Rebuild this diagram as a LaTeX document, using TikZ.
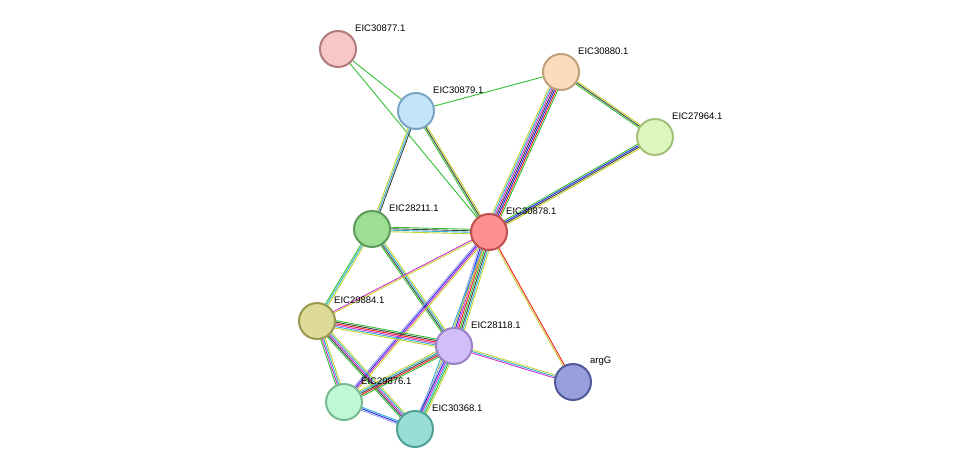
\documentclass[tikz,border=0pt]{standalone}
\usepackage{fontspec}
\setmainfont{Liberation Sans}
\usetikzlibrary{calc}
\pgfdeclarelayer{bg}
\pgfsetlayers{bg,main}
\definecolor{cG}{HTML}{33C033}
\definecolor{cR}{HTML}{F02020}
\definecolor{cB}{HTML}{2020F0}
\definecolor{cK}{HTML}{404040}
\definecolor{cM}{HTML}{D030D0}
\definecolor{cC}{HTML}{30B0D8}
\definecolor{cY}{HTML}{C4D430}
\definecolor{cL}{HTML}{A8A8F0}
\tikzset{
 prot/.style={circle,minimum size=36pt,inner sep=0pt,line width=2pt},
 lab/.style={font=\fontsize{9.5}{11}\selectfont,anchor=west,inner sep=0pt}
}
% #1,#2 nodes, #3 count, #4 colour list
\newcommand{\medge}[4]{%
 \foreach \c [count=\i] in {#4} {%
  \pgfmathsetmacro{\off}{(\i-(#3+1)/2)*1.5}%
  \draw[\c,line width=0.9pt] ($(#1.center)!\off pt!90:(#2.center)$) -- ($(#2.center)!\off pt!-90:(#1.center)$);
 }}
\newcommand{\prt}[5]{%
 \definecolor{f#1}{HTML}{#3}\definecolor{d#1}{HTML}{#4}%
 \node[prot,fill=f#1,draw=d#1] (#1) at #2 {};
 \node[lab] (l#1) at ($(#1)+(17,-21)$) {#5};}
\begin{document}
\begin{tikzpicture}[x=1pt,y=-1pt]
\path[use as bounding box] (0,0) rectangle (976,474);
\prt{a}{(338,49)}{F7C6C6}{B07C7C}{EIC30877.1}
\prt{b}{(416,111)}{C2E5FA}{7AA5C4}{EIC30879.1}
\prt{c}{(561,72)}{FDDCBE}{C0A07A}{EIC30880.1}
\prt{d}{(655,137)}{DDF6BE}{A2C07A}{EIC27964.1}
\prt{e}{(372,229)}{9BDE94}{5E9A58}{EIC28211.1}
\prt{f}{(489,232)}{FC9090}{C05050}{EIC30878.1}
\prt{g}{(317,321)}{DDDB97}{9A9850}{EIC29884.1}
\prt{h}{(454,346)}{D2BEF8}{9A80C4}{EIC28118.1}
\prt{i}{(573,382)}{979FDC}{505A9A}{argG}
\prt{j}{(344,402)}{C0F8D6}{78BA90}{EIC29876.1}
\prt{k}{(415,429)}{98DED4}{50A096}{EIC30368.1}
\begin{pgfonlayer}{bg}
\medge{a}{b}{1}{cG}
\medge{a}{f}{1}{cG}
\medge{b}{c}{1}{cG}
\medge{b}{f}{3}{cG,cK,cY}
\medge{b}{e}{3}{cY,cC,cK}
\medge{c}{f}{7}{cY,cC,cM,cK,cB,cR,cG}
\medge{c}{d}{3}{cG,cK,cY}
\medge{d}{f}{4}{cG,cB,cK,cY}
\medge{e}{f}{4}{cY,cC,cK,cG}
\medge{e}{g}{3}{cG,cC,cY}
\medge{e}{h}{4}{cG,cK,cC,cY}
\medge{f}{g}{2}{cM,cY}
\medge{f}{h}{8}{cL,cB,cM,cR,cG,cK,cC,cY}
\medge{f}{j}{4}{cL,cB,cM,cY}
\medge{f}{k}{2}{cC,cY}
\medge{f}{i}{2}{cY,cR}
\medge{g}{h}{6}{cY,cC,cM,cR,cK,cG}
\medge{g}{j}{4}{cG,cM,cC,cY}
\medge{g}{k}{5}{cG,cK,cM,cC,cY}
\medge{h}{i}{3}{cM,cC,cY}
\medge{h}{j}{5}{cY,cC,cK,cR,cG}
\medge{h}{k}{6}{cL,cB,cM,cC,cG,cY}
\medge{j}{k}{3}{cL,cB,cC}
\end{pgfonlayer}
\end{tikzpicture}
\end{document}
